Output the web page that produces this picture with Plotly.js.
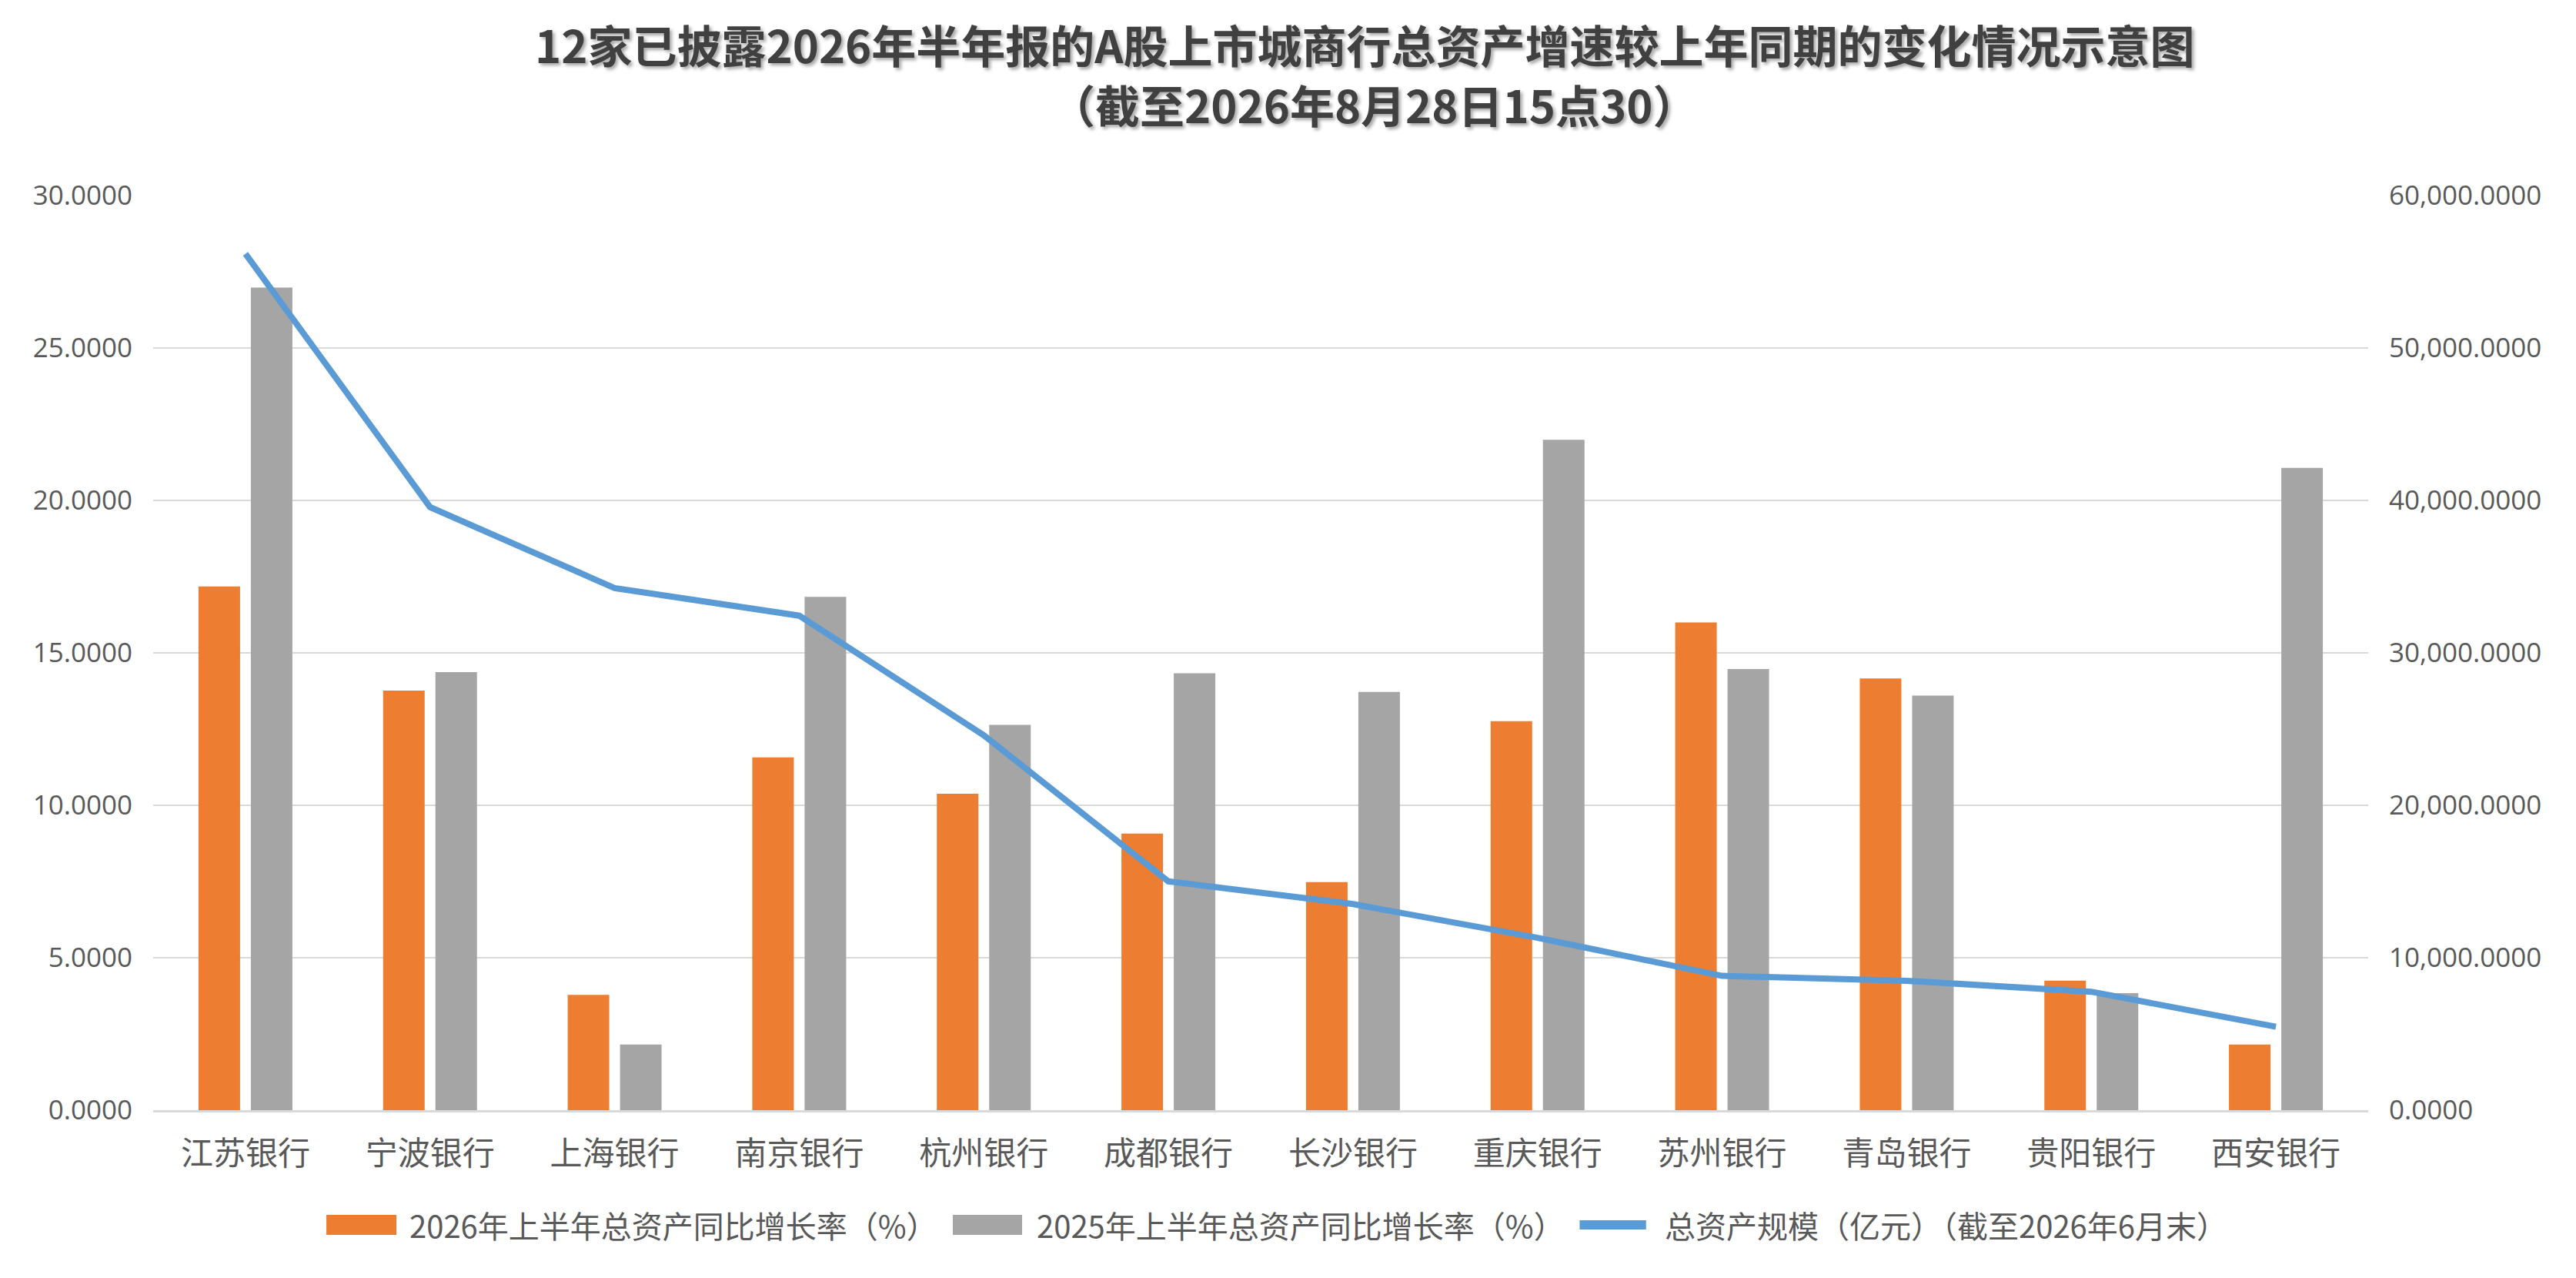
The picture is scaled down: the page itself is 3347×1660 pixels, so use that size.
<!DOCTYPE html>
<html>
<head>
<meta charset="utf-8">
<script src="https://cdn.plot.ly/plotly-3.0.1.min.js"></script>
<style>
  html, body { margin: 0; padding: 0; background: #ffffff; }
  #chart { width: 3347px; height: 1660px; }
</style>
</head>
<body>
<div id="chart"></div>
<script>
var banks = ["江苏银行", "宁波银行", "上海银行", "南京银行", "杭州银行", "成都银行",
             "长沙银行", "重庆银行", "苏州银行", "青岛银行", "贵阳银行", "西安银行"];
var growth2026 = [17.18, 13.76, 3.78, 11.57, 10.38, 9.07, 7.48, 12.76, 16.00, 14.16, 4.25, 2.15];
var growth2025 = [26.98, 14.37, 2.15, 16.84, 12.64, 14.33, 13.72, 21.99, 14.47, 13.60, 3.84, 21.07];
var totalAssets = [56180, 39560, 34250, 32440, 24590, 15010, 13520, 11310, 8810, 8490, 7770, 5470];

var seriesNames = ["2026年上半年总资产同比增长率（%）", "2025年上半年总资产同比增长率（%）",
                   "总资产规模（亿元）（截至2026年6月末）"];
var seriesColors = ["#ED7D31", "#A5A5A5", "#5B9BD5"];

var cjk = '"Noto Sans CJK SC", "Noto Sans", sans-serif';
var numFont = '"Open Sans", "Noto Sans", sans-serif';

var traces = [
  {
    name: seriesNames[0],
    type: "bar",
    x: banks,
    y: growth2026,
    marker: { color: seriesColors[0] }
  },
  {
    name: seriesNames[1],
    type: "bar",
    x: banks,
    y: growth2025,
    marker: { color: seriesColors[1] }
  },
  {
    name: seriesNames[2],
    type: "scatter",
    mode: "lines",
    x: banks,
    y: totalAssets,
    yaxis: "y2",
    line: { color: seriesColors[2], width: 8 }
  }
];

// legend drawn by hand so the swatches can be wide like the original
var legendY = -0.1254;
var legendFont = { family: cjk, size: 40, color: "#595959" };
var titleFont = { family: cjk, size: 58, color: "#404040", shadow: "3px 3px 4px rgba(0,0,0,0.35)" };
var shapes = [
  { type: "rect", xref: "paper", yref: "paper", x0: 0.0782, x1: 0.1098, y0: -0.1364, y1: -0.1145,
    fillcolor: seriesColors[0], line: { width: 0 } },
  { type: "rect", xref: "paper", yref: "paper", x0: 0.3610, x1: 0.3923, y0: -0.1364, y1: -0.1145,
    fillcolor: seriesColors[1], line: { width: 0 } },
  { type: "line", xref: "paper", yref: "paper", x0: 0.6440, x1: 0.6740, y0: legendY, y1: legendY,
    line: { color: seriesColors[2], width: 12 } }
];
var annotations = [
  { text: "<b>12家已披露2026年半年报的A股上市城商行总资产增速较上年同期的变化情况示意图</b>",
    xref: "paper", yref: "paper", x: 0.547, y: 1.1658, xanchor: "center", yanchor: "middle",
    showarrow: false, font: titleFont },
  { text: "<b>（截至2026年8月28日15点30）</b>",
    xref: "paper", yref: "paper", x: 0.551, y: 1.1002, xanchor: "center", yanchor: "middle",
    showarrow: false, font: titleFont },
  { text: seriesNames[0], xref: "paper", yref: "paper", x: 0.1150, y: legendY,
    xanchor: "left", yanchor: "middle", showarrow: false, font: legendFont },
  { text: seriesNames[1], xref: "paper", yref: "paper", x: 0.3982, y: legendY,
    xanchor: "left", yanchor: "middle", showarrow: false, font: legendFont },
  { text: seriesNames[2], xref: "paper", yref: "paper", x: 0.6817, y: legendY,
    xanchor: "left", yanchor: "middle", showarrow: false, font: legendFont }
];

var layout = {
  width: 3347,
  height: 1660,
  paper_bgcolor: "#ffffff",
  plot_bgcolor: "#ffffff",
  margin: { l: 199, r: 270, t: 254, b: 218 },
  barmode: "group",
  bargap: 0.433,
  bargroupgap: 0.206,
  showlegend: false,
  font: { family: cjk, color: "#595959" },
  xaxis: {
    type: "category",
    tickfont: { family: cjk, size: 42, color: "#595959" },
    ticks: "",
    ticklabelstandoff: 18,
    showline: true,
    linecolor: "#D9D9D9",
    linewidth: 3,
    showgrid: false,
    zeroline: false
  },
  yaxis: {
    range: [0, 30],
    dtick: 5,
    tickformat: ".4f",
    tickfont: { family: numFont, size: 35, color: "#595959" },
    showgrid: true,
    gridcolor: "#D9D9D9",
    gridwidth: 2,
    zeroline: false,
    showline: false,
    ticks: "",
    ticklabelstandoff: 26
  },
  yaxis2: {
    overlaying: "y",
    side: "right",
    range: [0, 60000],
    dtick: 10000,
    tickformat: ",.4f",
    tickfont: { family: numFont, size: 35, color: "#595959" },
    showgrid: false,
    zeroline: false,
    showline: false,
    ticks: "",
    ticklabelstandoff: 26
  },
  shapes: shapes,
  annotations: annotations
};

Plotly.newPlot("chart", traces, layout, { displayModeBar: false, responsive: false });
</script>
</body>
</html>
